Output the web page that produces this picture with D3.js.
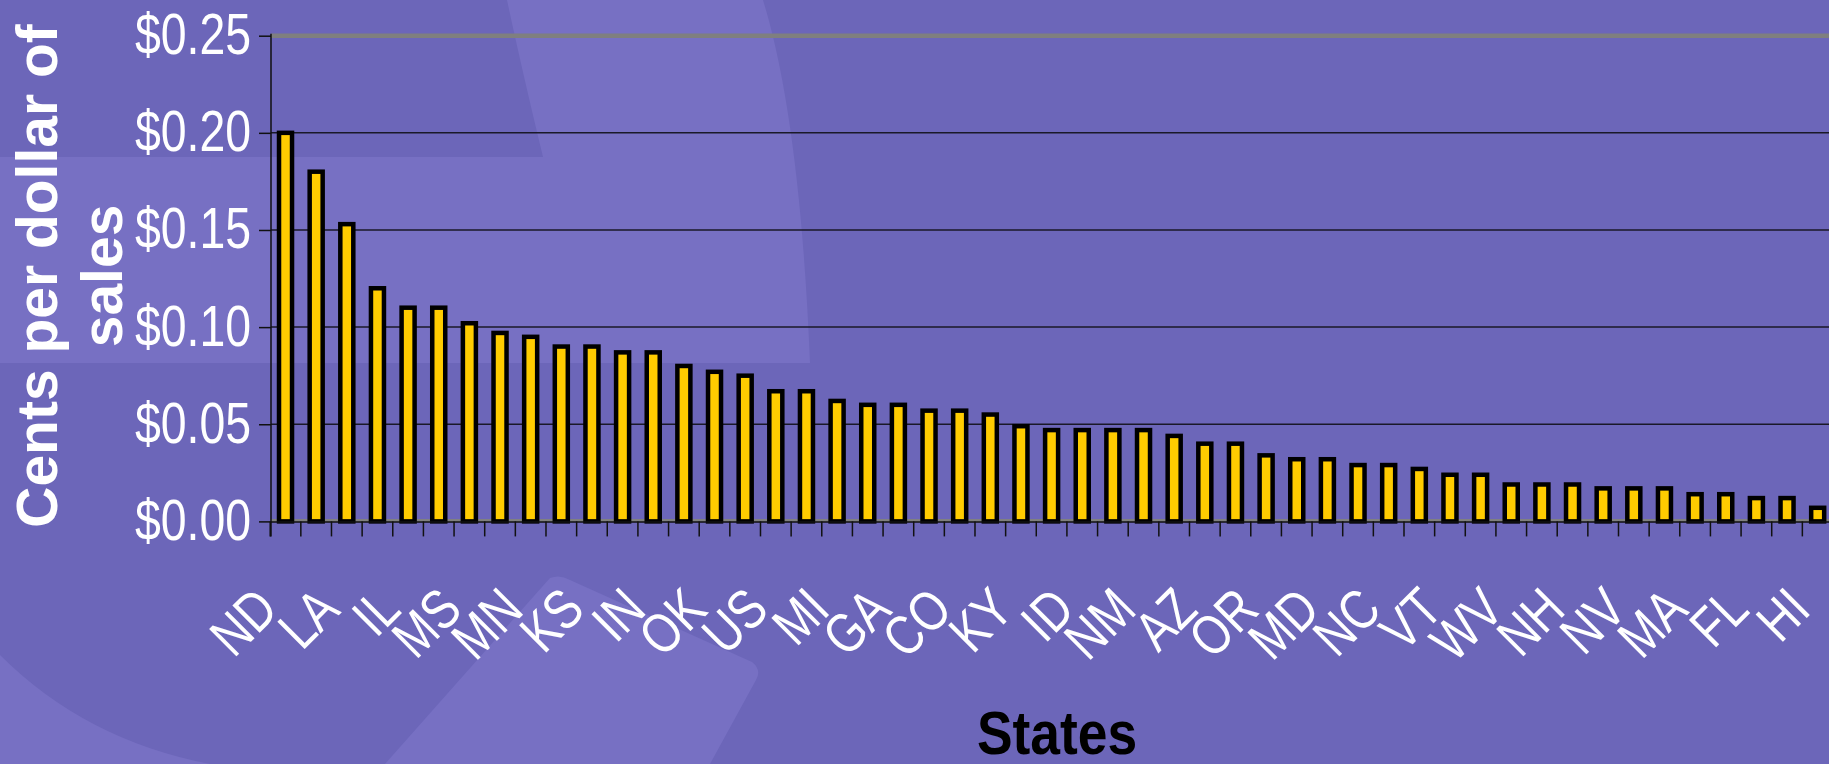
<!DOCTYPE html>
<html><head><meta charset="utf-8">
<script src="https://cdn.jsdelivr.net/npm/d3@7"></script>
<style>html,body{margin:0;padding:0;background:#6C66B9;overflow:hidden}</style>
</head><body>
<svg id="chart" width="1829" height="764"></svg>
<script>
// Category labels: only every other label is legible in the reference; hidden ones are left blank.
const categories = ["ND","","LA","","IL","","MS","","MN","","KS","","IN","","OK","","US","","MI","","GA","","CO","","KY","","ID","","NM","","AZ","","OR","","MD","","NC","","VT","","WV","","NH","","NV","","MA","","FL","","HI"];
const values = [0.200,0.180,0.153,0.120,0.110,0.110,0.102,0.097,0.095,0.090,0.090,0.087,0.087,0.080,0.077,0.075,0.067,0.067,0.062,0.060,0.060,0.057,0.057,0.055,0.049,0.047,0.047,0.047,0.047,0.044,0.040,0.040,0.034,0.032,0.032,0.029,0.029,0.027,0.024,0.024,0.019,0.019,0.019,0.017,0.017,0.017,0.014,0.014,0.012,0.012,0.007];
const yTicks = [0, 0.05, 0.10, 0.15, 0.20, 0.25];
const yTickLabels = ["$0.00","$0.05","$0.10","$0.15","$0.20","$0.25"];
const yTitleLines = ["Cents per dollar of", "sales"];
const xTitle = "States";

const W = 1829, H = 764;
const FONT = "'Liberation Sans', Arial, Helvetica, sans-serif";
const svg = d3.select("#chart");

// background decorations
svg.append("rect").attr("width", W).attr("height", H).attr("fill", "#6C66B9");
const light = "#7770C3";
svg.append("path").attr("d", "M507,0 L763,0 Q800,120 810,363 L0,363 L0,157 L543,157 Q522,70 507,0 Z").attr("fill", light);
svg.append("path").attr("d", "M550,578 Q560,574 570,580 L752,662 Q762,670 756,680 L710,764 L385,764 Z").attr("fill", light);
svg.append("path").attr("d", "M0,655 Q85,740 210,764 L0,764 Z").attr("fill", light);

const x = d3.scaleBand().domain(d3.range(categories.length)).range([270.2, 1833]).padding(0);
const y = d3.scaleLinear().domain([0, 0.25]).range([521.4, 35.7]);
const y0 = y(0);
const xLeft = 271;

// gridlines
svg.append("g").selectAll("line").data(yTicks.filter(d => d > 0 && d < 0.25)).join("line")
  .attr("x1", xLeft).attr("x2", W).attr("y1", d => y(d)).attr("y2", d => y(d))
  .attr("stroke", "#1a1928").attr("stroke-width", 1.5);
// top plot border (gray)
svg.append("line").attr("x1", xLeft).attr("x2", W).attr("y1", y(0.25)).attr("y2", y(0.25))
  .attr("stroke", "#7f7f7f").attr("stroke-width", 4.5);
// bottom gray border
svg.append("line").attr("x1", xLeft).attr("x2", W).attr("y1", y0 - 1).attr("y2", y0 - 1)
  .attr("stroke", "#808080").attr("stroke-width", 3);

// bars
svg.append("g").selectAll("rect").data(values).join("rect")
  .attr("x", (d, i) => x(i) + x.bandwidth() / 2 - 6.5)
  .attr("width", 13)
  .attr("y", d => y(d))
  .attr("height", d => y0 - y(d))
  .attr("fill", "#FFCC00").attr("stroke", "#000").attr("stroke-width", 4.5);

// x axis line + ticks at category boundaries
svg.append("line").attr("x1", xLeft).attr("x2", W).attr("y1", y0 + 0.5).attr("y2", y0 + 0.5)
  .attr("stroke", "#111").attr("stroke-width", 1.5);
svg.append("g").selectAll("line").data(d3.range(categories.length + 1)).join("line")
  .attr("x1", i => i < categories.length ? x(i) : x(i - 1) + x.bandwidth())
  .attr("x2", i => i < categories.length ? x(i) : x(i - 1) + x.bandwidth())
  .attr("y1", y0).attr("y2", y0 + 15)
  .attr("stroke", "#111").attr("stroke-width", 1.5);

// y axis
const yAxis = d3.axisLeft(y).tickValues(yTicks).tickFormat((d, i) => yTickLabels[i]).tickSize(12).tickPadding(0);
const gy = svg.append("g").attr("transform", `translate(${xLeft},0)`).call(yAxis);
gy.select(".domain").remove();
gy.selectAll(".tick line").attr("stroke", "#111").attr("stroke-width", 1.5);
gy.selectAll(".tick text")
  .attr("x", null).attr("dy", null)
  .attr("transform", "translate(-20,18) scale(0.8,1)")
  .attr("text-anchor", "end")
  .attr("fill", "#fff").attr("font-size", 58).attr("font-family", FONT);
svg.append("line").attr("x1", xLeft).attr("x2", xLeft).attr("y1", y(0.25) - 2).attr("y2", y0 + 15)
  .attr("stroke", "#111").attr("stroke-width", 1.5);

// category labels
svg.append("g").selectAll("text").data(categories.map((c, i) => ({c, i})).filter(d => d.c)).join("text")
  .attr("transform", d => `translate(${x(d.i) + x.bandwidth() / 2 - 5},612) rotate(-45) scale(0.82,1)`)
  .attr("text-anchor", "end")
  .attr("fill", "#fff").attr("font-size", 56).attr("font-family", FONT)
  .text(d => d.c);

// y title
yTitleLines.forEach((t, k) => {
  svg.append("text")
    .attr("transform", `translate(${k === 0 ? 57 : 122},276) rotate(-90)`)
    .attr("text-anchor", "middle")
    .attr("fill", "#fff").attr("font-size", 57).attr("font-weight", "bold").attr("font-family", FONT)
    .text(t);
});

// x title
svg.append("text")
  .attr("transform", "translate(1057,754) scale(0.875,1)")
  .attr("text-anchor", "middle")
  .attr("fill", "#000").attr("font-size", 61).attr("font-weight", "bold").attr("font-family", FONT)
  .text(xTitle);
</script>
</body></html>
